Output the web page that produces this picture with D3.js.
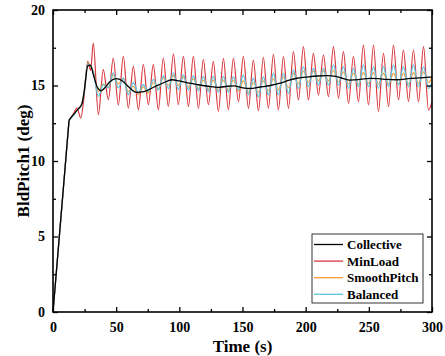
<!DOCTYPE html>
<html>
<head>
<meta charset="utf-8">
<script src="https://cdn.jsdelivr.net/npm/d3@7"></script>
<style>
  html, body { margin: 0; padding: 0; background: #fff; }
  svg { display: block; }
  svg text { font-family: "Liberation Serif", "Times New Roman", "DejaVu Serif", serif; font-weight: bold; }
</style>
</head>
<body>
<svg id="chart" width="445" height="356"></svg>
<script>
// Datos
const seriesNames = ['Collective', 'MinLoad', 'SmoothPitch', 'Balanced'];
const seriesColors = ['#000000', '#d8393f', '#ff9a2e', '#5ec4e0'];

// Collective (curva suave)
const colTime = [0, 12.7, 16, 20, 23, 25, 27.5, 29.5, 32, 35, 38, 41, 45, 50, 55, 60, 66, 72, 80, 88, 94, 100, 108, 115, 123, 131, 138, 143, 150, 156, 164, 172, 180, 187, 193, 200, 209, 217, 224, 230, 235, 243, 251, 258, 264, 272, 283, 290, 298, 300];
const colValue = [0, 12.7, 13.05, 13.45, 13.8, 14.8, 16.3, 16.35, 15.7, 14.9, 14.65, 14.85, 15.25, 15.45, 15.3, 14.9, 14.55, 14.6, 14.9, 15.2, 15.38, 15.3, 15.15, 15.05, 14.95, 14.88, 14.95, 14.97, 14.85, 14.8, 14.9, 15.0, 15.15, 15.35, 15.48, 15.55, 15.63, 15.65, 15.6, 15.45, 15.36, 15.4, 15.47, 15.45, 15.4, 15.38, 15.47, 15.5, 15.55, 15.55];

// Tiempos de picos y valles de las series oscilantes
const oscTime = [0, 12.7, 16, 19, 22, 24.5, 27.5, 29.8, 31.9, 35.9, 39.8, 43.8, 47.7, 51.7, 55.7, 59.6, 63.6, 67.6, 71.5, 75.5, 79.4, 83.4, 87.3, 91.3, 95.3, 99.2, 103.2, 107.2, 111.1, 115.1, 119.0, 123.0, 126.9, 130.9, 134.9, 138.8, 142.8, 146.8, 150.7, 154.7, 158.6, 162.6, 166.5, 170.5, 174.5, 178.4, 182.4, 186.4, 190.3, 194.3, 198.2, 202.2, 206.1, 210.1, 214.1, 218.0, 222.0, 226.0, 229.9, 233.9, 237.8, 241.8, 245.7, 249.7, 253.7, 257.6, 261.6, 265.6, 269.5, 273.5, 277.4, 281.4, 285.3, 289.3, 293.3, 297.2, 300];

const minLoad = [0, 12.7, 13.1, 13.5, 12.85, 14.2, 16.6, 16.0, 17.8, 13.07, 16.05, 14.06, 16.82, 13.7, 16.93, 13.5, 16.27, 13.4, 16.38, 13.73, 16.38, 13.4, 16.82, 13.62, 17.09, 13.73, 16.93, 13.62, 16.93, 13.5, 16.71, 13.73, 16.6, 13.29, 16.8, 13.4, 16.8, 13.93, 16.91, 13.49, 16.69, 13.33, 16.87, 13.49, 17.07, 13.38, 16.91, 13.49, 17.24, 14.04, 17.57, 14.04, 17.13, 14.38, 17.02, 14.26, 17.57, 14.15, 17.24, 13.82, 16.91, 13.93, 17.68, 13.71, 17.68, 13.27, 17.13, 13.6, 17.68, 14.04, 17.35, 13.93, 17.35, 13.93, 17.57, 13.38, 13.9];

const smoothPitch = [0, 12.7, 13.05, 13.4, 13.65, 14.5, 16.5, 16.35, 15.9, 14.6, 15.1, 14.9, 15.7, 15.1, 15.45, 14.6, 14.95, 14.4, 14.9, 14.5, 15.2, 14.8, 15.5, 15.0, 15.65, 15.0, 15.55, 14.9, 15.45, 14.8, 15.35, 14.75, 15.35, 14.7, 15.35, 14.7, 15.35, 14.65, 15.3, 14.55, 15.2, 14.55, 15.3, 14.65, 15.45, 14.7, 15.55, 14.85, 15.8, 15.1, 15.95, 15.2, 15.95, 15.3, 15.95, 15.3, 16.0, 15.25, 15.9, 15.1, 15.8, 15.1, 15.85, 15.15, 15.85, 15.1, 15.8, 15.1, 15.8, 15.1, 15.8, 15.1, 15.85, 15.15, 15.9, 15.2, 15.5];

const balanced = [0, 12.7, 13.0, 13.35, 13.6, 14.4, 16.45, 16.3, 15.9, 14.28, 15.05, 14.84, 15.83, 14.84, 15.5, 14.4, 15.2, 14.5, 15.05, 14.6, 15.4, 14.7, 15.65, 14.8, 15.83, 14.75, 15.7, 14.7, 15.65, 14.65, 15.6, 14.6, 15.6, 14.55, 15.6, 14.55, 15.59, 14.7, 15.7, 14.38, 15.48, 14.26, 15.59, 14.38, 15.81, 14.38, 15.81, 14.48, 16.03, 14.81, 16.25, 14.92, 16.14, 15.03, 16.14, 15.03, 16.36, 15.03, 16.25, 14.81, 16.14, 14.92, 16.36, 14.92, 16.25, 14.81, 16.25, 14.92, 16.36, 15.03, 16.25, 14.92, 16.36, 14.92, 16.25, 14.81, 15.2];

const xTicks = [0, 50, 100, 150, 200, 250, 300];
const xMinor = [25, 75, 125, 175, 225, 275];
const yTicks = [0, 5, 10, 15, 20];
const yMinor = [2.5, 7.5, 12.5, 17.5];
const rampEnd = 12.7; // fin de la rampa recta inicial

const width = 445;
const height = 356;
const margins = { left: 53, top: 10, right: 13, bottom: 44 };
const innerW = width - margins.left - margins.right;
const innerH = height - margins.top - margins.bottom;

const svg = d3.select('#chart');

const x = d3.scaleLinear().domain([0, 300]).range([margins.left, margins.left + innerW]);
const y = d3.scaleLinear().domain([0, 20]).range([margins.top + innerH, margins.top]);

// Series a dibujar (rojo, naranja, cian, y negro encima)
const zip = (ts, vs) => ts.map((t, i) => ({ t: t, v: vs[i] }));
const drawOrder = [
  { id: 1, data: zip(oscTime, minLoad), w: 1.2 },
  { id: 2, data: zip(oscTime, smoothPitch), w: 1.2 },
  { id: 3, data: zip(oscTime, balanced), w: 1.3 },
  { id: 0, data: zip(colTime, colValue), w: 1.3 },
];

// rampa con línea recta, el resto suavizado
const rampLine = d3.line().x(d => x(d.t)).y(d => y(d.v));
const smoothLine = d3.line().x(d => x(d.t)).y(d => y(d.v)).curve(d3.curveMonotoneX);
const pathOf = data =>
  rampLine(data.filter(d => d.t <= rampEnd)) + smoothLine(data.filter(d => d.t >= rampEnd));

const dataContainer = svg.append('g').attr('class', 'dataContainer');
dataContainer.selectAll('path.data')
  .data(drawOrder)
  .join('path')
  .attr('class', 'data')
  .attr('d', d => pathOf(d.data))
  .style('fill', 'none')
  .style('stroke', d => seriesColors[d.id])
  .style('stroke-width', d => d.w)
  .style('stroke-linejoin', 'round');

// Ejes (ticks hacia adentro en los cuatro lados)
const major = 5;
const minor = 3;

function styleAxis(g) {
  g.attr('font-family', null).attr('font-size', null);
  g.select('.domain').remove();
  g.selectAll('line').attr('stroke', '#000').attr('stroke-width', 1.3);
  g.selectAll('text').style('font-size', '14px').attr('fill', '#000');
}

svg.append('g')
  .attr('transform', `translate(0, ${margins.top + innerH})`)
  .call(d3.axisBottom(x).tickValues(xTicks).tickSize(-major).tickPadding(10).tickFormat(d3.format('d')))
  .call(styleAxis);
svg.append('g')
  .attr('transform', `translate(0, ${margins.top + innerH})`)
  .call(d3.axisBottom(x).tickValues(xMinor).tickSize(-minor).tickFormat(''))
  .call(styleAxis);
svg.append('g')
  .attr('transform', `translate(0, ${margins.top})`)
  .call(d3.axisTop(x).tickValues(xTicks).tickSize(-major).tickFormat(''))
  .call(styleAxis);
svg.append('g')
  .attr('transform', `translate(0, ${margins.top})`)
  .call(d3.axisTop(x).tickValues(xMinor).tickSize(-minor).tickFormat(''))
  .call(styleAxis);

svg.append('g')
  .attr('transform', `translate(${margins.left}, 0)`)
  .call(d3.axisLeft(y).tickValues(yTicks).tickSize(-major).tickPadding(8).tickFormat(d3.format('d')))
  .call(styleAxis);
svg.append('g')
  .attr('transform', `translate(${margins.left}, 0)`)
  .call(d3.axisLeft(y).tickValues(yMinor).tickSize(-minor).tickFormat(''))
  .call(styleAxis);
svg.append('g')
  .attr('transform', `translate(${margins.left + innerW}, 0)`)
  .call(d3.axisRight(y).tickValues(yTicks).tickSize(-major).tickFormat(''))
  .call(styleAxis);
svg.append('g')
  .attr('transform', `translate(${margins.left + innerW}, 0)`)
  .call(d3.axisRight(y).tickValues(yMinor).tickSize(-minor).tickFormat(''))
  .call(styleAxis);

// Marco
svg.append('rect')
  .attr('x', margins.left)
  .attr('y', margins.top)
  .attr('width', innerW)
  .attr('height', innerH)
  .style('fill', 'none')
  .style('stroke', '#000')
  .style('stroke-width', 1.6);

// Títulos de ejes
svg.append('text')
  .attr('x', margins.left + innerW / 2)
  .attr('y', 352)
  .style('text-anchor', 'middle')
  .style('font-size', '17px')
  .text('Time (s)');

svg.append('text')
  .attr('transform', `translate(29, ${margins.top + innerH / 2}) rotate(-90)`)
  .style('text-anchor', 'middle')
  .style('font-size', '17px')
  .text('BldPitch1 (deg)');

// Leyenda
const legend = { x: 312, y: 234, w: 111, h: 69, rowH: 16.6, fontSize: 13 };
const legendContainer = svg.append('g')
  .attr('class', 'legendContainer')
  .attr('transform', `translate(${legend.x}, ${legend.y})`);

legendContainer.append('rect')
  .attr('width', legend.w)
  .attr('height', legend.h)
  .style('fill', '#fff')
  .style('stroke', '#000')
  .style('stroke-width', 0.8);

const items = legendContainer.selectAll('g.legend-item')
  .data(seriesNames)
  .join('g')
  .attr('class', 'legend-item')
  .attr('transform', (d, i) => `translate(0, ${10.5 + i * legend.rowH})`);

items.append('line')
  .attr('x1', 2)
  .attr('x2', 31)
  .style('stroke', (d, i) => seriesColors[i])
  .style('stroke-width', 1.3);

items.append('text')
  .attr('x', 35)
  .attr('dy', '0.35em')
  .style('font-size', legend.fontSize + 'px')
  .text(d => d);
</script>
</body>
</html>
